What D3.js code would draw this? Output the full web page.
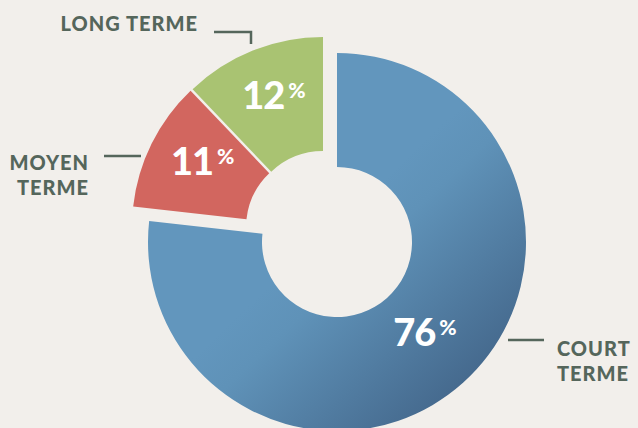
<!DOCTYPE html>
<meta charset="utf-8">
<title>Répartition par terme</title>
<script src="https://d3js.org/d3.v7.min.js"></script>
<style>
  body { margin: 0; background: #f2efeb; }
  svg { display: block; font-family: "Lato", "Open Sans", sans-serif; }
</style>
<body>
<script>

// Data
const categories = ["COURT TERME", "MOYEN TERME", "LONG TERME"];
const values = [76, 11, 12];
const labelLines = [["COURT", "TERME"], ["MOYEN", "TERME"], ["LONG TERME"]];

const width = 638, height = 428;
const cx = 337, cy = 242;
const outerR = 189, innerR = 75;

const colors = ["url(#blueGrad)", "#d2665f", "#a9c372"];
const textColor = "#55665b";

// offsets for the exploded slices
const explode = [[0, 0], [-16, -14.5], [-14, -16]];

const svg = d3.select("body").append("svg")
  .attr("width", width)
  .attr("height", height);

svg.append("rect")
  .attr("width", width).attr("height", height)
  .attr("fill", "#f2efeb");

// gradient coords are relative to the donut centre (paths sit in the translated group)
const defs = svg.append("defs");
const grad = defs.append("linearGradient")
  .attr("id", "blueGrad")
  .attr("gradientUnits", "userSpaceOnUse")
  .attr("x1", -10).attr("y1", -10)
  .attr("x2", 140).attr("y2", 150);
grad.append("stop").attr("offset", 0).attr("stop-color", "#6296bd");
grad.append("stop").attr("offset", 0.2).attr("stop-color", "#5f92b8");
grad.append("stop").attr("offset", 1).attr("stop-color", "#43668a");

const pie = d3.pie().sort(null).value(d => d);
const arcs = pie(values);

const arc = d3.arc().innerRadius(innerR).outerRadius(outerR);
const labelArc = d3.arc().innerRadius(132).outerRadius(132);

const g = svg.append("g").attr("transform", `translate(${cx},${cy})`);

const slice = g.selectAll("g.slice")
  .data(arcs)
  .enter()
  .append("g")
  .attr("class", "slice")
  .attr("transform", (d, i) => `translate(${explode[i][0]},${explode[i][1]})`);

slice.append("path")
  .attr("d", arc)
  .attr("fill", (d, i) => colors[i]);

// percentage labels
const pct = slice.append("text")
  .attr("transform", d => `translate(${labelArc.centroid(d)})`)
  .attr("text-anchor", "middle")
  .attr("dy", "0.36em")
  .attr("fill", "#fff")
  .attr("font-weight", 900);

pct.append("tspan")
  .attr("font-size", 38)
  .attr("letter-spacing", -1)
  .text(d => d.data);
pct.append("tspan")
  .attr("font-size", 21)
  .attr("dx", 4)
  .attr("dy", -11)
  .text("%");

// category labels and leader lines
const labelPos = [
  { x: 557, y: 356, anchor: "start", line: [[508, 340], [544, 340]] },
  { x: 89, y: 170, anchor: "end", line: [[104, 156], [141, 156]] },
  { x: 198, y: 31, anchor: "end", line: [[214, 32], [251, 32], [251, 44]] }
];

categories.forEach((c, i) => {
  const p = labelPos[i];
  const t = svg.append("text")
    .attr("x", p.x).attr("y", p.y)
    .attr("text-anchor", p.anchor)
    .attr("fill", textColor)
    .attr("font-size", 20)
    .attr("font-weight", 900)
    .attr("letter-spacing", 1);
  labelLines[i].forEach((line, j) => {
    t.append("tspan")
      .attr("x", p.x)
      .attr("dy", j === 0 ? 0 : 25)
      .text(line);
  });
  svg.append("path")
    .attr("d", d3.line()(p.line))
    .attr("fill", "none")
    .attr("stroke", textColor)
    .attr("stroke-width", 2.5);
});

</script>
</body>
